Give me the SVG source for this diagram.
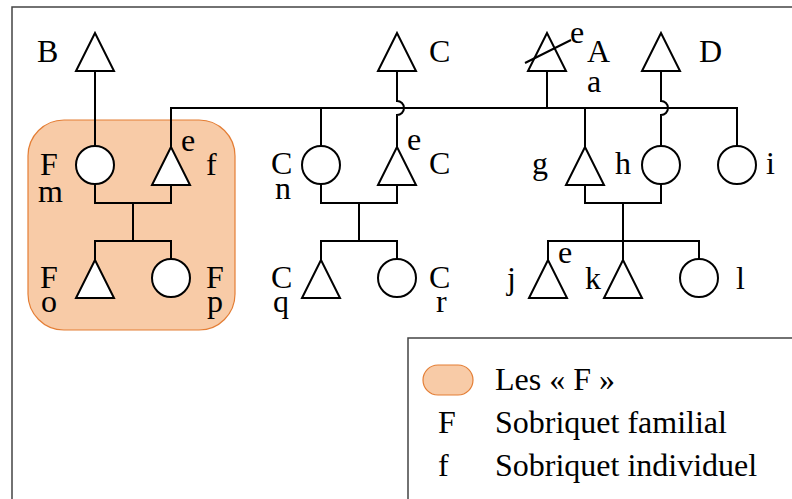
<svg xmlns="http://www.w3.org/2000/svg" width="792" height="499" viewBox="0 0 792 499">
<style>
.s{fill:#fff;stroke:#000;stroke-width:2}
.c{fill:none;stroke:#000;stroke-width:2}
text{font-family:"Liberation Serif","Times New Roman",serif;font-size:32px;fill:#000}
</style>
<defs>
<polygon id="tri" points="0,0 -19,38 19,38"/>
</defs>
<rect x="12" y="7" width="800" height="520" fill="#fff" stroke="#444" stroke-width="1.5"/>
<rect id="groupF" x="28" y="120" width="207" height="210" rx="36" fill="#F8CBA7" stroke="#E47E35" stroke-width="1.2"/>
<g id="connectors" class="c">
<path d="M95,71 V146"/>
<path d="M171,147 V108 H737 V146"/>
<path d="M397,71 V101 A7,7 0 0 1 397,115 V147"/>
<path d="M661,71 V101 A7,7 0 0 1 661,115 V146"/>
<path d="M547,71 V108"/>
<path d="M321,108 V146"/>
<path d="M585,108 V147"/>
<path d="M95,184 V203 H171 V185"/>
<path d="M133,203 V241"/>
<path d="M95,260 V241 H171 V259"/>
<path d="M321,184 V203 H397 V185"/>
<path d="M359,203 V241"/>
<path d="M321,260 V241 H397 V259"/>
<path d="M585,185 V203 H661 V184"/>
<path d="M623,203 V260"/>
<path d="M548,260 V241 H699 V259"/>
</g>
<g id="B"><use href="#tri" x="95" y="33" class="s"/><text x="37" y="62">B</text></g>
<g id="C1"><use href="#tri" x="397" y="33" class="s"/><text x="429" y="62">C</text></g>
<g id="A"><use href="#tri" x="547" y="33" class="s"/><line x1="525" y1="63" x2="571" y2="40" class="c"/><text x="570" y="43">e</text><text x="587" y="62">A</text><text x="587" y="92">a</text></g>
<g id="D"><use href="#tri" x="661" y="33" class="s"/><text x="699" y="62">D</text></g>
<g id="Fm"><circle cx="95" cy="165" r="19" class="s"/><text x="40" y="175">F</text><text x="38" y="202">m</text></g>
<g id="f"><use href="#tri" x="171" y="147" class="s"/><text x="181" y="151">e</text><text x="206" y="175">f</text></g>
<g id="Cn"><circle cx="321" cy="165" r="19" class="s"/><text x="271" y="174">C</text><text x="275" y="199">n</text></g>
<g id="C2"><use href="#tri" x="397" y="147" class="s"/><text x="407" y="150">e</text><text x="429" y="174">C</text></g>
<g id="g"><use href="#tri" x="585" y="147" class="s"/><text x="532" y="174">g</text></g>
<g id="h"><circle cx="661" cy="165" r="19" class="s"/><text x="615" y="174">h</text></g>
<g id="i"><circle cx="737" cy="165" r="19" class="s"/><text x="766" y="174">i</text></g>
<g id="Fo"><use href="#tri" x="95" y="260" class="s"/><text x="40" y="288">F</text><text x="41" y="312">o</text></g>
<g id="Fp"><circle cx="171" cy="278" r="19" class="s"/><text x="206" y="288">F</text><text x="207" y="312">p</text></g>
<g id="Cq"><use href="#tri" x="321" y="260" class="s"/><text x="271" y="288">C</text><text x="273" y="312">q</text></g>
<g id="Cr"><circle cx="397" cy="278" r="19" class="s"/><text x="429" y="288">C</text><text x="436" y="312">r</text></g>
<g id="j"><use href="#tri" x="548" y="260" class="s"/><text x="507" y="289">j</text><text x="558" y="263">e</text></g>
<g id="k"><use href="#tri" x="623" y="260" class="s"/><text x="585" y="289">k</text></g>
<g id="l"><circle cx="699" cy="278" r="19" class="s"/><text x="736" y="289">l</text></g>
<g id="legend">
<rect x="408" y="338" width="400" height="200" fill="#fff" stroke="#444" stroke-width="1.5"/>
<rect x="423" y="365" width="50" height="30" rx="15" fill="#F8CBA7" stroke="#E47E35" stroke-width="1.2"/>
<text x="495" y="390">Les « F »</text>
<text x="438" y="433">F</text><text x="495" y="433">Sobriquet familial</text>
<text x="438" y="476">f</text><text x="495" y="476">Sobriquet individuel</text>
</g>
</svg>
